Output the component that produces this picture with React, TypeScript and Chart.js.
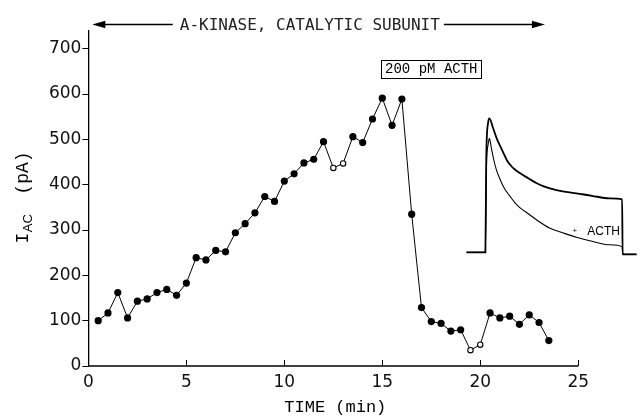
import React, { useEffect, useRef } from 'react';
import { Chart, registerables } from 'chart.js';

Chart.register(...registerables);

// ---- main series: I_AC (pA) vs time (min) ----
const timeMin = [
  0.5, 1.0, 1.5, 2.0, 2.5, 3.0, 3.5, 4.0, 4.5, 5.0,
  5.5, 6.0, 6.5, 7.0, 7.5, 8.0, 8.5, 9.0, 9.5, 10.0,
  10.5, 11.0, 11.5, 12.0, 12.5, 13.0, 13.5, 14.0, 14.5, 15.0,
  15.5, 16.0, 16.5, 17.0, 17.5, 18.0, 18.5, 19.0, 19.5, 20.0,
  20.5, 21.0, 21.5, 22.0, 22.5, 23.0, 23.5,
];
const currentPA = [
  100, 117, 162, 106, 143, 148, 162, 169, 156, 183,
  239, 234, 255, 252, 294, 314, 338, 374, 363, 408,
  424, 448, 456, 495, 437, 447, 506, 493, 545, 591,
  531, 589, 335, 129, 98, 94, 77, 80, 35, 47,
  117, 106, 110, 92, 113, 96, 56,
];
const openPoint = [
  false, false, false, false, false, false, false, false, false, false,
  false, false, false, false, false, false, false, false, false, false,
  false, false, false, false, true, true, false, false, false, false,
  false, false, false, false, false, false, false, false, true, true,
  false, false, false, false, false, false, false,
];

const xTicks = [0, 5, 10, 15, 20, 25];
const yTicks = [0, 100, 200, 300, 400, 500, 600, 700];

// ---- inset current traces (ms, arbitrary current units) ----
const insetControlTime = [-1, 10, 10.5, 11.6, 12.3, 14.5, 16.8, 18.7, 20.6, 22.5, 24.5, 27, 30.2, 35, 39.9, 44, 47.6, 55, 63, 72, 82.3, 89.6, 89.9, 98];
const insetControlCurrent = [0, 0, 95, 130, 134, 124, 113, 106, 99, 92, 87.3, 83, 79, 74, 69, 66, 64, 61, 59, 56.5, 54, 53, -2, -2];
const insetActhTime = [-1, 10, 10.5, 11.6, 12.3, 13.5, 14.9, 16.5, 18.7, 21, 24.5, 27, 30.2, 35, 39.9, 47.6, 55, 63, 72, 82.3, 89.6, 89.9, 98];
const insetActhCurrent = [0, 0, 80, 108, 114, 104, 92.3, 82, 72.3, 64, 55.6, 50, 44.5, 38.5, 32.3, 24, 19.5, 15, 11, 7.5, 5.5, -2, -2];

// ---- text ----
const kinaseLabel = 'A-KINASE, CATALYTIC SUBUNIT';
const kinaseSpan = [0.2, 23.3];
const kinaseLabelAt = 11.3;
const stimulusLabel = '200 pM ACTH';
const stimulusAt = [17.5, 655];
const insetTraceLabel = 'ACTH';
const insetTraceLabelAt = [62, 17.5];
const xTitle = 'TIME (min)';
const yTitleMain = 'I';
const yTitleSub = 'AC';
const yTitleUnit = '(pA)';

const W = 641;
const H = 418;
const AXIS_LEFT = 88.4;
const AXIS_BOTTOM = 366;
const CHART_TOP = 30.6;

const decor = {
  id: 'decor',
  afterDraw(chart: any) {
    const ctx = chart.ctx as CanvasRenderingContext2D;
    const x = chart.scales.x;
    const y = chart.scales.y;
    const x2 = chart.scales.x2;
    const y2 = chart.scales.y2;
    ctx.save();
    ctx.strokeStyle = '#000';
    ctx.fillStyle = '#000';

    // bottom axis line 0..25 with inward ticks
    const yb = y.getPixelForValue(0);
    ctx.lineWidth = 1.3;
    ctx.beginPath();
    ctx.moveTo(x.getPixelForValue(xTicks[0]), yb);
    ctx.lineTo(x.getPixelForValue(xTicks[xTicks.length - 1]), yb);
    ctx.stroke();
    ctx.lineWidth = 1;
    for (const t of xTicks) {
      if (t === 0) continue;
      const px = Math.round(x.getPixelForValue(t)) + 0.5;
      ctx.beginPath();
      ctx.moveTo(px, yb);
      ctx.lineTo(px, yb - 6);
      ctx.stroke();
    }

    // x title
    ctx.font = '17px "Liberation Mono"';
    ctx.textAlign = 'center';
    ctx.textBaseline = 'alphabetic';
    const xc = (x.getPixelForValue(xTicks[0]) + x.getPixelForValue(xTicks[xTicks.length - 1])) / 2 + 2;
    ctx.fillText(xTitle, xc, 412);

    // y title (rotated, with subscript)
    ctx.save();
    ctx.translate(27.5, 243.5);
    ctx.rotate(-Math.PI / 2);
    ctx.textAlign = 'left';
    ctx.font = '18px "Liberation Mono"';
    ctx.fillText(yTitleMain, 0, 0);
    const wI = ctx.measureText(yTitleMain).width;
    ctx.font = '13px "Liberation Sans"';
    ctx.fillText(yTitleSub, wI + 0.5, 4.5);
    const wAC = ctx.measureText(yTitleSub).width;
    ctx.font = '18px "Liberation Mono"';
    ctx.fillText(yTitleUnit, wI + wAC + 20, 0);
    ctx.restore();

    // top arrow with label
    const ay = 24.5;
    const ax0 = x.getPixelForValue(kinaseSpan[0]);
    const ax1 = x.getPixelForValue(kinaseSpan[1]);
    const lx = x.getPixelForValue(kinaseLabelAt);
    ctx.font = '16px "DejaVu Sans Mono"';
    ctx.textAlign = 'center';
    ctx.textBaseline = 'middle';
    ctx.fillStyle = '#222';
    ctx.fillText(kinaseLabel, lx, ay + 1);
    ctx.fillStyle = '#000';
    const tw = ctx.measureText(kinaseLabel).width;
    ctx.lineWidth = 1.3;
    ctx.beginPath();
    ctx.moveTo(ax0 + 8, ay);
    ctx.lineTo(lx - tw / 2 - 7, ay);
    ctx.moveTo(lx + tw / 2 + 4, ay);
    ctx.lineTo(ax1 - 8, ay);
    ctx.stroke();
    ctx.beginPath();
    ctx.moveTo(ax0, ay);
    ctx.lineTo(ax0 + 13, ay - 3.8);
    ctx.lineTo(ax0 + 13, ay + 3.8);
    ctx.closePath();
    ctx.fill();
    ctx.beginPath();
    ctx.moveTo(ax1, ay);
    ctx.lineTo(ax1 - 13, ay - 3.8);
    ctx.lineTo(ax1 - 13, ay + 3.8);
    ctx.closePath();
    ctx.fill();

    // stimulus box
    const bx = x.getPixelForValue(stimulusAt[0]);
    const by = y.getPixelForValue(stimulusAt[1]);
    ctx.font = '14px "Liberation Mono"';
    const sw = ctx.measureText(stimulusLabel).width;
    ctx.textAlign = 'center';
    ctx.textBaseline = 'middle';
    ctx.fillText(stimulusLabel, bx, by + 0.5);
    ctx.lineWidth = 1;
    ctx.strokeRect(Math.round(bx - sw / 2 - 4) + 0.5, Math.round(by - 9) + 0.5, Math.round(sw + 8), 18);

    // inset trace label
    const ix = x2.getPixelForValue(insetTraceLabelAt[0]);
    const iy = y2.getPixelForValue(insetTraceLabelAt[1]);
    ctx.font = '8px "Liberation Sans"';
    ctx.textAlign = 'center';
    ctx.textBaseline = 'alphabetic';
    ctx.fillText('+', ix, iy - 2);
    ctx.font = '12px "Liberation Sans"';
    ctx.textAlign = 'left';
    ctx.fillText(insetTraceLabel, ix + 12.5, iy);

    ctx.restore();
  },
};

export default function App() {
  const ref = useRef<HTMLCanvasElement | null>(null);

  useEffect(() => {
    const canvas = ref.current;
    if (!canvas) return;
    const xMax = 28;
    // inset placement: 0 ms at px 471, 1.73 px per ms; 1 unit per px vertically, baseline at 252.3
    const insetT0 = 471;
    const insetPxPerMs = 1.73;
    const insetBase = 252.3;

    const chart = new Chart(canvas, {
      type: 'line',
      data: {
        datasets: [
          {
            label: 'I_AC',
            data: timeMin.map((t, i) => ({ x: t, y: currentPA[i] })),
            xAxisID: 'x',
            yAxisID: 'y',
            borderColor: '#000',
            borderWidth: 1,
            pointRadius: openPoint.map((o) => (o ? 2.7 : 3.6)),
            pointBackgroundColor: openPoint.map((o) => (o ? '#fff' : '#000')),
            pointBorderColor: '#000',
            pointBorderWidth: openPoint.map((o) => (o ? 1.1 : 0)),
            tension: 0,
          } as any,
          {
            label: 'control',
            data: insetControlTime.map((t, i) => ({ x: t, y: insetControlCurrent[i] })),
            xAxisID: 'x2',
            yAxisID: 'y2',
            borderColor: '#000',
            borderWidth: 1.8,
            pointRadius: 0,
            cubicInterpolationMode: 'monotone',
          } as any,
          {
            label: '+ ACTH',
            data: insetActhTime.map((t, i) => ({ x: t, y: insetActhCurrent[i] })),
            xAxisID: 'x2',
            yAxisID: 'y2',
            borderColor: '#000',
            borderWidth: 1.1,
            pointRadius: 0,
            cubicInterpolationMode: 'monotone',
          } as any,
        ],
      },
      options: {
        responsive: false,
        animation: false,
        devicePixelRatio: 1,
        events: [],
        layout: { padding: { top: CHART_TOP, left: 0, right: 0, bottom: 0 } },
        plugins: { legend: { display: false }, tooltip: { enabled: false } },
        scales: {
          x: {
            type: 'linear',
            position: 'bottom',
            min: 0,
            max: xMax,
            afterBuildTicks: (s: any) => {
              s.ticks = xTicks.map((v) => ({ value: v }));
            },
            afterFit: (s: any) => {
              s.height = H - AXIS_BOTTOM;
            },
            grid: { display: false, drawTicks: false },
            border: { display: false },
            ticks: {
              color: '#111',
              padding: 6,
              maxRotation: 0,
              autoSkip: false,
              font: { family: 'DejaVu Sans', size: 17 },
            },
          },
          y: {
            type: 'linear',
            position: 'left',
            min: 0,
            max: 740,
            afterBuildTicks: (s: any) => {
              s.ticks = yTicks.map((v) => ({ value: v }));
            },
            afterFit: (s: any) => {
              s.width = AXIS_LEFT;
            },
            grid: { drawOnChartArea: false, drawTicks: true, tickLength: 6, color: '#000', lineWidth: 1 },
            border: { display: true, color: '#000', width: 1.3 },
            ticks: {
              color: '#111',
              padding: 1,
              autoSkip: false,
              font: { family: 'DejaVu Sans', size: 17 },
            },
          },
          x2: {
            type: 'linear',
            display: false,
            min: -(insetT0 - AXIS_LEFT) / insetPxPerMs,
            max: (W - insetT0) / insetPxPerMs,
          },
          y2: {
            type: 'linear',
            display: false,
            min: -(AXIS_BOTTOM - insetBase),
            max: insetBase - CHART_TOP,
          },
        },
      } as any,
      plugins: [decor],
    });
    return () => chart.destroy();
  }, []);

  return (
    <div style={{ position: 'fixed', left: 0, top: 0, width: W, height: H, background: '#fff' }}>
      <canvas ref={ref} width={W} height={H} style={{ display: 'block' }} />
    </div>
  );
}
